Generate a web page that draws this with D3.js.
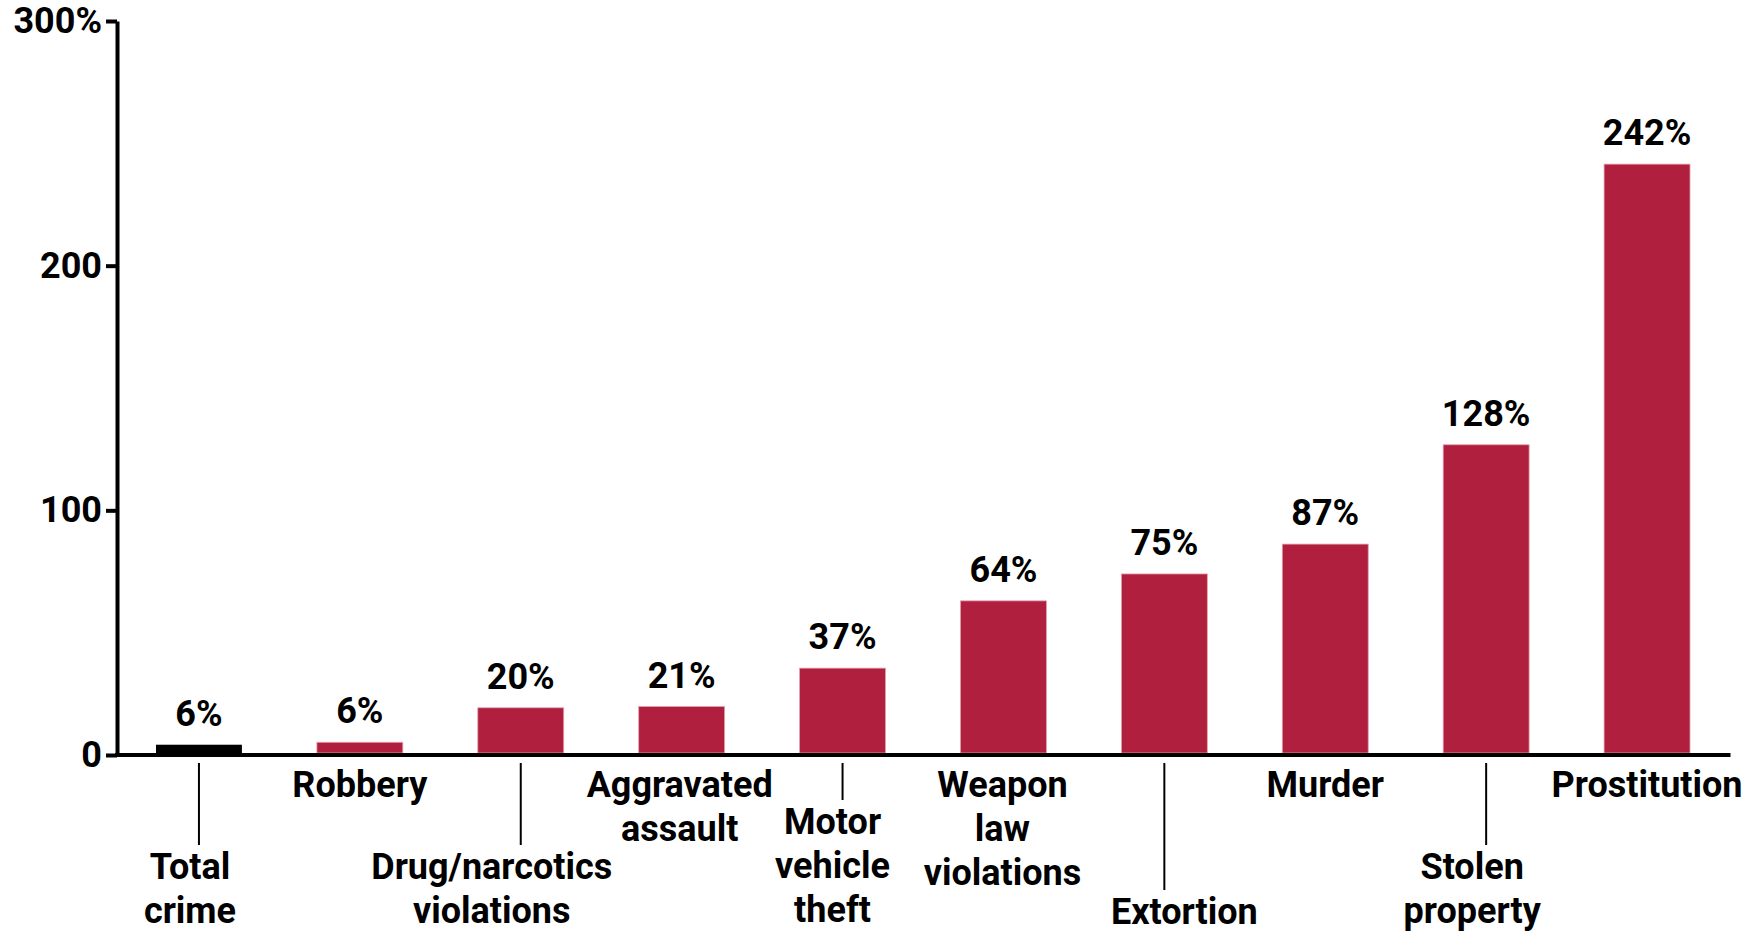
<!DOCTYPE html>
<html>
<head>
<meta charset="utf-8">
<script src="https://cdn.jsdelivr.net/npm/d3@7"></script>
<style>
	body { margin: 0; background: #fff; }
	text { font-family: Roboto, "Liberation Sans", sans-serif; font-weight: 700; }
</style>
</head>
<body>
<svg id="chart"></svg>
<script>
// data
var categories = ["Total\ncrime", "Robbery", "Drug/narcotics\nviolations", "Aggravated\nassault", "Motor\nvehicle\ntheft",
	"Weapon\nlaw\nviolations", "Extortion", "Murder", "Stolen\nproperty", "Prostitution"]
var barValues = [4.2, 5.2, 19.3, 19.8, 35.5, 63, 74, 86.2, 126.8, 241.5]
var labelValues = [6, 6, 20, 21, 37, 64, 75, 87, 128, 242]
var yTicks = [0, 100, 200, 300]

// label layout (staggered rows, small nudges)
var labelLevel = [2, 0, 2, 0, 1, 0, 3, 0, 2, 0]
var labelShift = [-9, 0, -29, -2, -10, -1, 20, 0, -14, 0]
var levelBase = [42, 79, 124, 169]

var dimensions = {
	width: 1760,
	height: 933,
	left: 118.5,
	right: 1727.5,
	top: 21,
	bottom: 755
}

var svg = d3.select("#chart")
	.attr("width", dimensions.width)
	.attr("height", dimensions.height)

var xScale = d3.scaleBand()
	.domain(categories)
	.range([dimensions.left, dimensions.right])
	.paddingInner(0.466)
	.paddingOuter(0.233)

var yScale = d3.scaleLinear()
	.domain([0, 300])
	.range([dimensions.bottom, dimensions.top])

// bars
svg.append("g")
	.selectAll("rect")
	.data(categories)
	.enter()
	.append("rect")
	.attr("x", d => xScale(d))
	.attr("width", xScale.bandwidth())
	.attr("y", (d, i) => yScale(barValues[i]))
	.attr("height", (d, i) => yScale(0) - 2 - yScale(barValues[i]))
	.attr("fill", (d, i) => i == 0 ? "#000" : "#b01f3d")
	.attr("stroke", (d, i) => i == 0 ? "none" : "#e3a0ae")
	.attr("stroke-width", 0.8)

// value labels
svg.append("g")
	.selectAll("text")
	.data(categories)
	.enter()
	.append("text")
	.attr("x", d => xScale(d) + xScale.bandwidth() / 2)
	.attr("y", (d, i) => yScale(barValues[i]) - 19)
	.attr("text-anchor", "middle")
	.style("font-size", "36px")
	.text((d, i) => labelValues[i] + "%")

// y axis
var yAxisgen = d3.axisLeft(yScale)
	.tickValues(yTicks)
	.tickSize(11)
	.tickSizeOuter(0)
	.tickPadding(4)
	.tickFormat(d => d == 300 ? "300%" : d)

var yAxis = svg.append("g")
	.attr("transform", "translate(117,0)")
	.call(yAxisgen)
yAxis.select(".domain").attr("stroke", "#000").attr("stroke-width", 4)
yAxis.selectAll(".tick line").attr("stroke", "#000").attr("stroke-width", 4)
yAxis.selectAll(".tick text")
	.attr("fill", "#000")
	.style("font-size", "36px")
	.style("font-family", "Roboto")
	.style("font-weight", 700)

// x axis line
svg.append("line")
	.attr("x1", 115)
	.attr("x2", dimensions.right + 3)
	.attr("y1", yScale(0))
	.attr("y2", yScale(0))
	.attr("stroke", "#000")
	.attr("stroke-width", 4)

// category labels
var lineH = 44
var labels = svg.append("g")
categories.forEach(function (c, i) {
	var cx = xScale(c) + xScale.bandwidth() / 2
	var base = yScale(0) + levelBase[labelLevel[i]]
	if (labelLevel[i] > 0) {
		labels.append("line")
			.attr("x1", cx).attr("x2", cx)
			.attr("y1", yScale(0) + 8)
			.attr("y2", base - 34)
			.attr("stroke", "#000")
			.attr("stroke-width", 2)
	}
	var t = labels.append("text")
		.attr("text-anchor", "middle")
		.style("font-size", "36px")
	c.split("\n").forEach(function (part, j) {
		t.append("tspan")
			.attr("x", cx + labelShift[i])
			.attr("y", base + j * lineH)
			.text(part)
	})
})
</script>
</body>
</html>
